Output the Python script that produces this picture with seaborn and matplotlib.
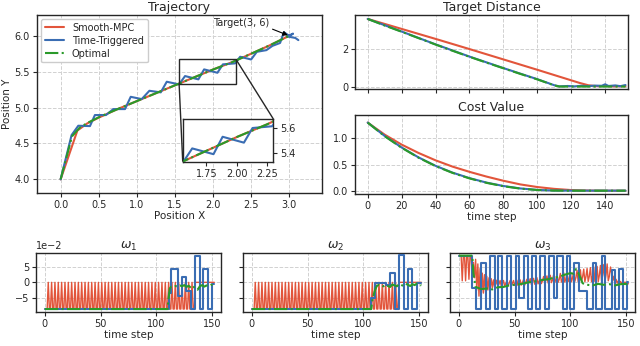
import matplotlib
matplotlib.use("Agg")
import matplotlib.pyplot as plt
import seaborn as sns
from matplotlib.lines import Line2D
from mpl_toolkits.axes_grid1.inset_locator import mark_inset

# ---------------- data ----------------
series_names = ["Smooth-MPC", "Time-Triggered", "Optimal"]

# Trajectory (position x, position y)
traj_mpc_x = [0, 0.22, 0.35, 0.5, 0.75, 1.0, 1.25, 1.5, 1.75, 2.0, 2.25, 2.5, 2.75, 3.0]
traj_mpc_y = [4.0, 4.68, 4.78, 4.86, 4.98, 5.09, 5.20, 5.31, 5.42, 5.53, 5.632, 5.75, 5.87, 6.0]
traj_opt_x = [0, 0.15, 0.25, 0.35, 0.5, 0.75, 1.0, 1.25, 1.5, 1.75, 2.0, 2.25, 2.5, 2.75, 3.0]
traj_opt_y = [4.0, 4.6, 4.72, 4.785, 4.865, 4.98, 5.09, 5.20, 5.31, 5.42, 5.53, 5.632, 5.75, 5.87, 6.0]
traj_tt_x = [0, 0.144, 0.232, 0.385, 0.45, 0.595, 0.692, 0.845, 0.92, 1.064, 1.165, 1.314,
             1.393, 1.554, 1.633, 1.808, 1.883, 2.058, 2.129, 2.29, 2.356, 2.50, 2.575, 2.70,
             2.78, 2.88, 2.93, 3.0, 3.05, 2.98, 3.08, 3.12]
traj_tt_y = [4.0, 4.617, 4.747, 4.742, 4.896, 4.896, 4.979, 4.979, 5.15, 5.118, 5.234, 5.212,
             5.36, 5.323, 5.439, 5.393, 5.532, 5.485, 5.602, 5.616, 5.708, 5.67, 5.777, 5.80,
             5.86, 5.90, 6.05, 6.0, 6.03, 5.99, 5.97, 5.94]

# Target distance
td_t_mpc = [0, 20, 40, 60, 80, 100, 115, 125, 130, 135, 140, 145, 152]
td_mpc = [3.6, 3.07, 2.54, 2.0, 1.45, 0.9, 0.48, 0.2, 0.08, 0.03, 0.04, 0.02, 0.03]
td_t_tt = [0, 20, 40, 60, 80, 100, 110, 113, 118, 122, 126, 130, 134, 138, 140, 142, 146, 149, 152]
td_tt = [3.6, 2.93, 2.25, 1.6, 0.99, 0.40, 0.08, 0.02, 0.04, 0.02, 0.05, 0.03, 0.06, 0.05, 0.13,
         0.04, 0.07, 0.03, 0.09]
td_t_opt = [0, 10, 20, 30, 40, 50, 60, 70, 80, 90, 100, 105, 110, 113, 152]
td_opt = [3.6, 3.25, 2.92, 2.58, 2.24, 1.91, 1.59, 1.28, 0.98, 0.68, 0.39, 0.23, 0.07, 0.01, 0.01]

# Cost value
cost_t = [0, 10, 20, 30, 40, 50, 60, 70, 80, 90, 100, 110, 120, 130, 140, 152]
cost_mpc = [1.3, 1.07, 0.88, 0.72, 0.58, 0.46, 0.36, 0.27, 0.19, 0.12, 0.07, 0.035, 0.012, 0.003, 0.0, 0.0]
cost_tt = [1.3, 1.045, 0.825, 0.635, 0.475, 0.345, 0.24, 0.155, 0.09, 0.043, 0.015, 0.003, 0.001, 0.001, 0.001, 0.001]
cost_opt = [1.3, 1.04, 0.82, 0.63, 0.47, 0.34, 0.235, 0.15, 0.085, 0.04, 0.013, 0.002, 0.0, 0.0, 0.0, 0.0]

# Angular rates (units of 1e-2), one value per time step for Smooth-MPC
w1_mpc = [
    -8.7, -8.7, -8.7,
    0, -8.7, -8.7, 0, -8.7, -8.7, 0, -8.7, -8.7, 0, -8.7, -8.7,
    0, -8.7, -8.7, 0, -8.7, -8.7, 0, -8.7, -8.7, 0, -8.7, -8.7,
    0, -8.7, -8.7, 0, -8.7, -8.7, 0, -8.7, -8.7, 0, -8.7, -8.7,
    0, -8.7, -8.7, 0, -8.7, -8.7, 0, -8.7, -8.7, 0, -8.7, -8.7,
    0, -8.7, -8.7, 0, -8.7, -8.7, 0, -8.7, -8.7, 0, -8.7, -8.7,
    0, -8.7, -8.7, 0, -8.7, -8.7, 0, -8.7, -8.7, 0, -8.7, -8.7,
    0, -8.7, -8.7, 0, -8.7, -8.7, 0, -8.7, -8.7, 0, -8.7, -8.7,
    0, -8.7, -8.7, 0, -8.7, -8.7, 0, -8.7, -8.7, 0, -8.7, -8.7,
    0, -8.7, -8.7, 0, -8.7, -8.7, 0, -8.7, -8.7, 0, -8.7, -8.7,
    0, -8.7, -8.7, 0, -8.7, -8.7, 0, -8.7, -8.7, 0, -8.7, -8.7,
    0, -8.7, -8.7, 0, -8.7, -8.7, 0, -8.7, -8.7, 0, -8.7, -8.7,
    0, 0, 0, 0, 0, 0, 0, 0, 0, 0, 0, 0, 0, 0, 0, 0, 0, 0,
]
w2_mpc = [
    -8.7, -8.7, -8.7,
    0, -8.7, -8.7, 0, -8.7, -8.7, 0, -8.7, -8.7, 0, -8.7, -8.7,
    0, -8.7, -8.7, 0, -8.7, -8.7, 0, -8.7, -8.7, 0, -8.7, -8.7,
    0, -8.7, -8.7, 0, -8.7, -8.7, 0, -8.7, -8.7, 0, -8.7, -8.7,
    0, -8.7, -8.7, 0, -8.7, -8.7, 0, -8.7, -8.7, 0, -8.7, -8.7,
    0, -8.7, -8.7, 0, -8.7, -8.7, 0, -8.7, -8.7, 0, -8.7, -8.7,
    0, -8.7, -8.7, 0, -8.7, -8.7, 0, -8.7, -8.7, 0, -8.7, -8.7,
    0, -8.7, -8.7, 0, -8.7, -8.7, 0, -8.7, -8.7, 0, -8.7, -8.7,
    0, -8.7, -8.7, 0, -8.7, -8.7, 0, -8.7, -8.7, 0, -8.7, -8.7,
    0, -8.7, -8.7, 0, -8.7, -8.7, 0, -8.7, -8.7, 0, -8.7, -8.7,
    0, -8.7, -8.7, 0, -8.7, -8.7, 0, -8.7, -8.7, 0, -8.7, -8.7,
    0, -8.7, -8.7, 0, -8.7, -8.7, 0, -8.7, -8.7,
    0, 0, 0, 0, 0, 0, 0, 0, 0, 0, 0, 0, 0, 0, 0, 0, 0, 0, 0, 0, 0,
]
w3_mpc = [
    8.7, 8.7, 8.7, 0.5, 8.7, 8.7, 0.5, 8.7, 8.7, 1.0, 8.7, 8.5, 2.0, 6.5, 1.5, 7.5,
    -2.5, 6.0, -4.5, 4.5, -5.0, 3.0, -3.5, 2.5, -3.0, 2.0, -2.5, 1.5, -2.0, 1.2, -1.8,
    0.8, -1.5, -0.6, 0.7, -1.4, -0.5, 0.6, -1.3, -0.4, 0.6, -1.2, -0.4, 0.5, -1.2, -0.3,
    0.6, -1.1, -0.3, 0.6, -1.0, -0.2, 0.7, -1.0, -0.2, 0.8, -0.9, -0.1, 0.9, -0.9, 0.0,
    1.0, -0.8, 0.1, 1.2, -0.7, 0.2, 1.3, -0.6, 0.3, 1.5, -0.5, 0.4, 1.7, -0.4, 0.5,
    1.9, -0.3, 0.6, 2.1, -0.2, 0.7, 2.3, -0.1, 0.8, 2.5, 0.0, 0.9, 2.7, 0.0, 1.0,
    2.9, 0.1, 1.1, 3.1, 0.1, 1.2, 3.3, 0.2, 1.3, 3.5,
    0.2, 1.5, 3.7, 0.3, 1.6, 3.9, 0.2, 1.7, 4.1, 0.3, 1.8, 4.3, 0.2, 1.9, 4.5,
    0.3, 2.0, 4.8, 0.2, 2.1, 5.0, 0.3, 2.2, 5.2, 0.2, 2.3, 5.5, 0.3, 2.4, 5.8,
    0.2, 2.5, 6.0, 0.5, 2.0, 5.0,
    3.0, 0.5, 2.0, 0.0, 1.0, -0.3, 0.5, -0.2, 0.3, -0.5, 0.2, -0.4, 0.1, -0.3, 0.0, -0.5,
]

# Time-Triggered (piecewise constant: change times and held values, 1e-2)
w1_tt_t = [0, 111, 113, 119, 123, 127, 131, 135, 139, 142, 146, 150, 152]
w1_tt = [-8.7, -3.5, 4.4, -4.5, 1.8, -2.8, -8.7, 8.6, -8.7, 4.4, -8.7, -0.5, -0.5]
w2_tt_t = [0, 107, 110, 120, 124, 128, 132, 136, 140, 144, 148, 152]
w2_tt = [-8.7, -5.0, -0.3, -1.0, 3.2, -8.7, 8.9, -8.7, 4.2, -8.7, -0.3, -0.3]
w3_tt_t = [0, 12, 15, 20, 24, 28, 32, 35, 39, 43, 47, 51, 54, 58, 62, 66, 69, 73, 77, 81,
           85, 88, 93, 97, 100, 103, 108, 115, 120, 123, 128, 131, 137, 140, 144, 147, 151, 152]
w3_tt = [8.7, -1.7, -8.7, 6.4, -8.7, 8.7, -8.7, 8.7, -8.7, 8.7, -8.7, 8.7, -5.0, 8.7, -8.7,
         8.7, -8.7, 8.7, -8.7, 8.7, -5.0, 8.7, -8.7, 8.7, -8.7, 6.4, -2.8, -8.7, 6.4, -8.7,
         8.7, -8.7, 4.0, -8.7, 4.2, -8.7, 0.0, 0.0]

# Optimal (1e-2)
w1_opt_t = [0, 110, 111, 112, 113, 115, 117, 119, 121, 123, 125, 127, 129, 131, 133, 135,
            137, 139, 141, 143, 145, 147, 149, 151, 152]
w1_opt = [-8.7, -8.7, -5.0, -2.0, -1.5, -1.3, -1.2, -1.4, -1.0, -1.3, -0.9, -1.5, -1.1, -1.8,
          -1.2, -2.2, -2.4, -1.3, -0.9, -1.4, -1.0, -1.2, -0.8, -1.0, -1.3]
w2_opt_t = [0, 107, 108, 110, 112, 114, 116, 118, 120, 122, 124, 126, 128, 130, 132, 134,
            136, 138, 140, 142, 144, 146, 148, 150, 152]
w2_opt = [-8.7, -8.7, -6.0, -3.0, -1.2, -0.8, -1.0, -1.3, -0.9, -1.2, -1.5, -0.7, -1.0, -1.3,
          -0.6, -0.9, -1.1, -0.5, -0.8, -1.2, -0.6, -0.9, -0.4, -0.7, -1.0]
w3_opt_t = [0, 12, 13, 15, 20, 25, 30, 35, 40, 45, 50, 55, 60, 65, 70, 75, 80, 85, 90, 95,
            100, 103, 105, 107, 109, 111, 115, 120, 125, 130, 135, 140, 145, 150, 152]
w3_opt = [8.7, 8.7, 3.0, -1.5, -2.2, -2.0, -2.3, -1.6, -1.5, -1.0, -0.8, -0.6, -0.2, 0.2, 0.4,
          0.8, 1.0, 1.5, 1.8, 2.5, 3.0, 2.8, 4.3, 3.2, 1.5, -0.3, -0.8, -1.0, -0.5, -0.8,
          -0.6, -1.0, -0.6, -0.5, -1.3]

# ---------------- style ----------------
RED, BLUE, GREEN = "#E2553B", "#3A6DB3", "#2A9A2A"

sns.set_theme(style="whitegrid")
plt.rcParams.update({
    "font.family": ["DejaVu Sans"],
    "axes.edgecolor": "0.15",
    "axes.linewidth": 1.0,
    "grid.color": "0.82",
    "grid.linestyle": "--",
    "grid.linewidth": 0.7,
    "xtick.bottom": True, "ytick.left": True,
    "xtick.major.size": 3, "ytick.major.size": 3,
    "xtick.major.width": 0.8, "ytick.major.width": 0.8,
    "xtick.color": "0.15", "ytick.color": "0.15",
    "xtick.labelsize": 7, "ytick.labelsize": 7,
    "axes.labelsize": 7.5, "axes.titlesize": 9,
    "axes.labelcolor": "0.15",
    "xtick.major.pad": 2, "ytick.major.pad": 2,
})


def draw(ax, x, y, color, ls="-", lw=1.5, step=False, z=2):
    kw = dict(x=list(x), y=list(y), ax=ax, color=color, linestyle=ls, linewidth=lw,
              sort=False, estimator=None, errorbar=None, legend=False, zorder=z)
    if step:
        kw["drawstyle"] = "steps-post"
    sns.lineplot(**kw)


fig = plt.figure(figsize=(6.4, 3.46), dpi=100)

# ---- Trajectory ----
ax_tr = fig.add_axes([0.0578, 0.4422, 0.4453, 0.5145])
for a in [ax_tr]:
    draw(a, traj_mpc_x, traj_mpc_y, RED, lw=1.5, z=2)
    draw(a, traj_tt_x, traj_tt_y, BLUE, lw=1.5, z=3)
    draw(a, traj_opt_x, traj_opt_y, GREEN, ls="-.", lw=1.5, z=4)
ax_tr.set_xlim(-0.31, 3.43)
ax_tr.set_ylim(3.81, 6.29)
ax_tr.set_xticks([0.0, 0.5, 1.0, 1.5, 2.0, 2.5, 3.0])
ax_tr.set_yticks([4.0, 4.5, 5.0, 5.5, 6.0])
ax_tr.set_xlabel("Position X", labelpad=1)
ax_tr.set_ylabel("Position Y", labelpad=2)
ax_tr.set_title("Trajectory", pad=3)
handles = [Line2D([], [], color=RED, lw=1.5),
           Line2D([], [], color=BLUE, lw=1.5),
           Line2D([], [], color=GREEN, lw=1.5, ls="-.")]
ax_tr.legend(handles, series_names, loc="upper left", fontsize=7, frameon=True,
             edgecolor="0.8", framealpha=1.0, borderpad=0.4, labelspacing=0.3,
             handlelength=2.0, borderaxespad=0.4)
ax_tr.annotate("Target(3, 6)", xy=(3.0, 6.0), xytext=(2.0, 6.18), fontsize=7,
               ha="left", va="center",
               arrowprops=dict(arrowstyle="-|>", color="black", lw=0.8,
                               relpos=(1.0, 0.0), shrinkA=0, shrinkB=1,
                               mutation_scale=7))

# inset
ax_in = fig.add_axes([0.2855, 0.5327, 0.1416, 0.1234])
draw(ax_in, traj_mpc_x, traj_mpc_y, RED, lw=1.5, z=2)
draw(ax_in, traj_tt_x, traj_tt_y, BLUE, lw=1.5, z=3)
draw(ax_in, traj_opt_x, traj_opt_y, GREEN, ls="-.", lw=1.5, z=4)
ax_in.set_xlim(1.555, 2.30)
ax_in.set_ylim(5.333, 5.674)
ax_in.set_xticks([1.75, 2.00, 2.25])
ax_in.set_xticklabels(["1.75", "2.00", "2.25"])
ax_in.set_yticks([5.4, 5.6])
ax_in.yaxis.tick_right()
ax_in.tick_params(left=False, right=True, labelsize=7)
ax_in.grid(False)
ax_in.set_xlabel("")
ax_in.set_ylabel("")
ax_in.set_facecolor("white")
mark_inset(ax_tr, ax_in, loc1=1, loc2=3, fc="none", ec="0.15", lw=1.0, zorder=5)

# ---- Target distance ----
ax_td = fig.add_axes([0.5547, 0.7428, 0.4266, 0.2139])
draw(ax_td, td_t_mpc, td_mpc, RED, lw=1.5, z=2)
draw(ax_td, td_t_tt, td_tt, BLUE, lw=1.5, z=3)
draw(ax_td, td_t_opt, td_opt, GREEN, ls="-.", lw=1.5, z=4)
ax_td.set_xlim(-7.5, 153.5)
ax_td.set_ylim(-0.12, 3.81)
ax_td.set_xticks(range(0, 141, 20))
ax_td.set_yticks([0, 2])
ax_td.tick_params(labelbottom=False)
ax_td.set_xlabel("")
ax_td.set_ylabel("")
ax_td.set_title("Target Distance", pad=3)

# ---- Cost value ----
ax_c = fig.add_axes([0.5547, 0.4393, 0.4266, 0.2283])
draw(ax_c, cost_t, cost_mpc, RED, lw=1.5, z=2)
draw(ax_c, cost_t, cost_tt, BLUE, lw=1.5, z=3)
draw(ax_c, cost_t, cost_opt, GREEN, ls="-.", lw=1.5, z=4)
ax_c.set_xlim(-7.5, 153.5)
ax_c.set_ylim(-0.063, 1.445)
ax_c.set_xticks(range(0, 141, 20))
ax_c.set_yticks([0.0, 0.5, 1.0])
ax_c.set_xlabel("time step", labelpad=1)
ax_c.set_ylabel("")
ax_c.set_title("Cost Value", pad=3)

# ---- Angular rates ----
w_sets = [
    (w1_mpc, w1_tt_t, w1_tt, w1_opt_t, w1_opt, r"$\omega_1$", 0.05625),
    (w2_mpc, w2_tt_t, w2_tt, w2_opt_t, w2_opt, r"$\omega_2$", 0.3797),
    (w3_mpc, w3_tt_t, w3_tt, w3_opt_t, w3_opt, r"$\omega_3$", 0.7031),
]
for i, (mpc, tt_t, tt, opt_t, opt, title, x0) in enumerate(w_sets):
    ax = fig.add_axes([x0, 0.0983, 0.2891, 0.1705])
    draw(ax, range(len(mpc)), [v * 0.01 for v in mpc], RED, lw=1.0, z=2)
    draw(ax, tt_t, [v * 0.01 for v in tt], BLUE, lw=1.5, step=True, z=3)
    draw(ax, opt_t, [v * 0.01 for v in opt], GREEN, ls="-.", lw=1.5, z=4)
    ax.set_xlim(-8.0, 158.0)
    ax.set_ylim(-0.0966, 0.0956)
    ax.set_xticks([0, 50, 100, 150])
    ax.set_yticks([-0.05, 0.0, 0.05])
    ax.set_xlabel("time step", labelpad=1)
    ax.set_ylabel("")
    ax.set_title(title, pad=3)
    if i == 0:
        ax.ticklabel_format(axis="y", style="sci", scilimits=(-2, -2))
        ax.yaxis.get_offset_text().set_fontsize(7)
    else:
        ax.tick_params(labelleft=False)
        ax.yaxis.get_offset_text().set_visible(False)

fig.savefig("out.png", dpi=100)
